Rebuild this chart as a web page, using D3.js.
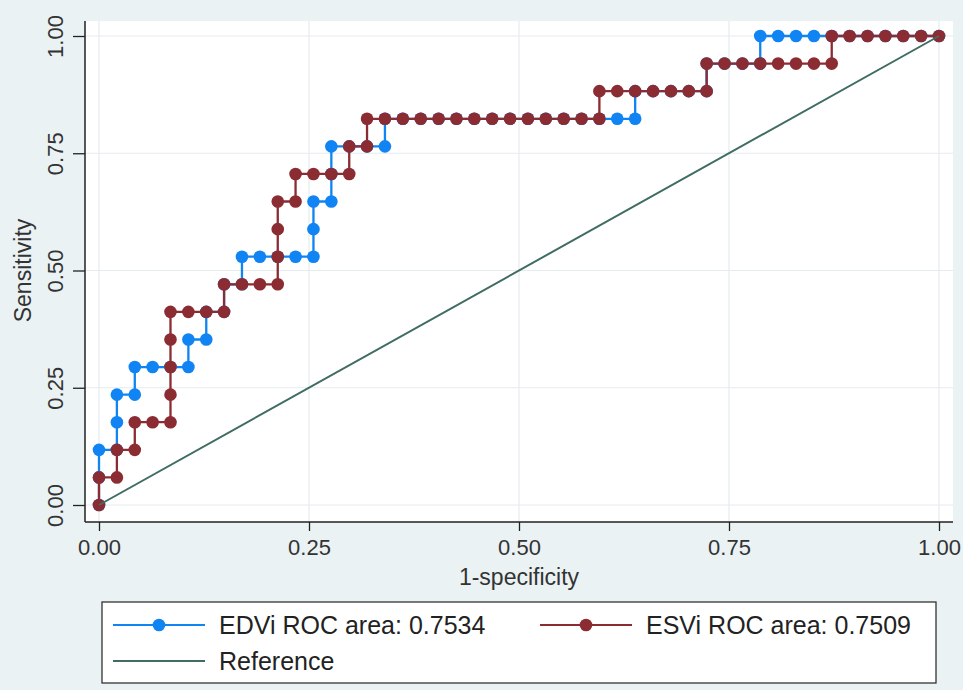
<!DOCTYPE html>
<html>
<head>
<meta charset="utf-8">
<script src="https://cdn.jsdelivr.net/npm/d3@7"></script>
<style>
  html, body { margin: 0; padding: 0; background: #eaf2f3; }
  svg { display: block; font-family: "Liberation Sans", Arial, sans-serif; }
</style>
</head>
<body>
<svg id="chart" width="963" height="690"></svg>
<script>
// Axis ticks
const xTicks = [0, 0.25, 0.5, 0.75, 1];
const yTicks = [0, 0.25, 0.5, 0.75, 1];

// EDVi ROC curve: 1-specificity and sensitivity at each cutoff
const edviFpr = [0.0000,0.0000,0.0000,0.0213,0.0213,0.0213,0.0426,0.0426,0.0638,0.0851,
  0.1064,0.1064,0.1277,0.1277,0.1489,0.1489,0.1702,0.1702,0.1915,0.2128,
  0.2340,0.2553,0.2553,0.2553,0.2766,0.2766,0.2766,0.2979,0.3191,0.3404,
  0.3404,0.3617,0.3830,0.4043,0.4255,0.4468,0.4681,0.4894,0.5106,0.5319,
  0.5532,0.5745,0.5957,0.6170,0.6383,0.6383,0.6596,0.6809,0.7021,0.7234,
  0.7234,0.7447,0.7660,0.7872,0.7872,0.8085,0.8298,0.8511,0.8723,0.8936,
  0.9149,0.9362,0.9574,0.9787,1.0000];
const edviSens = [0.0000,0.0588,0.1176,0.1176,0.1765,0.2353,0.2353,0.2941,0.2941,0.2941,
  0.2941,0.3529,0.3529,0.4118,0.4118,0.4706,0.4706,0.5294,0.5294,0.5294,
  0.5294,0.5294,0.5882,0.6471,0.6471,0.7059,0.7647,0.7647,0.7647,0.7647,
  0.8235,0.8235,0.8235,0.8235,0.8235,0.8235,0.8235,0.8235,0.8235,0.8235,
  0.8235,0.8235,0.8235,0.8235,0.8235,0.8824,0.8824,0.8824,0.8824,0.8824,
  0.9412,0.9412,0.9412,0.9412,1.0000,1.0000,1.0000,1.0000,1.0000,1.0000,
  1.0000,1.0000,1.0000,1.0000,1.0000];

// ESVi ROC curve
const esviFpr = [0.0000,0.0000,0.0213,0.0213,0.0426,0.0426,0.0638,0.0851,0.0851,0.0851,
  0.0851,0.0851,0.1064,0.1277,0.1489,0.1489,0.1702,0.1915,0.2128,0.2128,
  0.2128,0.2128,0.2340,0.2340,0.2553,0.2766,0.2979,0.2979,0.3191,0.3191,
  0.3404,0.3617,0.3830,0.4043,0.4255,0.4468,0.4681,0.4894,0.5106,0.5319,
  0.5532,0.5745,0.5957,0.5957,0.6170,0.6383,0.6596,0.6809,0.7021,0.7234,
  0.7234,0.7447,0.7660,0.7872,0.8085,0.8298,0.8511,0.8723,0.8723,0.8936,
  0.9149,0.9362,0.9574,0.9787,1.0000];
const esviSens = [0.0000,0.0588,0.0588,0.1176,0.1176,0.1765,0.1765,0.1765,0.2353,0.2941,
  0.3529,0.4118,0.4118,0.4118,0.4118,0.4706,0.4706,0.4706,0.4706,0.5294,
  0.5882,0.6471,0.6471,0.7059,0.7059,0.7059,0.7059,0.7647,0.7647,0.8235,
  0.8235,0.8235,0.8235,0.8235,0.8235,0.8235,0.8235,0.8235,0.8235,0.8235,
  0.8235,0.8235,0.8235,0.8824,0.8824,0.8824,0.8824,0.8824,0.8824,0.8824,
  0.9412,0.9412,0.9412,0.9412,0.9412,0.9412,0.9412,0.9412,1.0000,1.0000,
  1.0000,1.0000,1.0000,1.0000,1.0000];

// Diagonal reference line
const refFpr = [0, 1];
const refSens = [0, 1];

const seriesNames = ["EDVi ROC area: 0.7534", "ESVi ROC area: 0.7509", "Reference"];
const xTitle = "1-specificity";
const yTitle = "Sensitivity";

const colors = { edvi: "#0f84f2", esvi: "#8b2c32", ref: "#3f6c63" };

const svg = d3.select("#chart");
const W = 963, H = 690;
const plot = { left: 85, right: 953, top: 21, bottom: 522 };

svg.append("rect").attr("width", W).attr("height", H).attr("fill", "#eaf2f3");
svg.append("rect")
  .attr("x", plot.left).attr("y", plot.top)
  .attr("width", plot.right - plot.left).attr("height", plot.bottom - plot.top)
  .attr("fill", "#ffffff");

const x = d3.scaleLinear().domain([0, 1]).range([99, 939]);
const y = d3.scaleLinear().domain([0, 1]).range([505, 36]);

// Grid lines
const grid = svg.append("g").attr("stroke", "#e4ecee").attr("stroke-width", 1.2);
grid.selectAll("line.h").data(yTicks).join("line")
  .attr("x1", plot.left).attr("x2", plot.right)
  .attr("y1", d => y(d)).attr("y2", d => y(d));
grid.selectAll("line.v").data(xTicks).join("line")
  .attr("y1", plot.top).attr("y2", plot.bottom)
  .attr("x1", d => x(d)).attr("x2", d => x(d));

// Axes
const fmt = d3.format(".2f");
const xAxis = svg.append("g")
  .attr("transform", `translate(0,${plot.bottom})`)
  .call(d3.axisBottom(x).tickValues(xTicks).tickFormat(fmt).tickSize(9));
xAxis.select(".domain").remove();
xAxis.selectAll(".tick line").attr("stroke", "#222").attr("stroke-width", 1.3);
xAxis.selectAll(".tick text")
  .attr("y", 33).attr("dy", 0)
  .attr("font-size", 22).attr("fill", "#333")
  .attr("font-family", "Liberation Sans, Arial, sans-serif");

const yAxis = svg.append("g")
  .attr("transform", `translate(${plot.left},0)`)
  .call(d3.axisLeft(y).tickValues(yTicks).tickFormat(fmt).tickSize(12));
yAxis.select(".domain").remove();
yAxis.selectAll(".tick line").attr("stroke", "#222").attr("stroke-width", 1.3);
yAxis.selectAll(".tick text")
  .attr("transform", "rotate(-90)")
  .attr("x", 0).attr("y", -22).attr("dy", 0)
  .attr("text-anchor", "middle")
  .attr("font-size", 22).attr("fill", "#333")
  .attr("font-family", "Liberation Sans, Arial, sans-serif");

// Axis lines along the plot region
svg.append("line")
  .attr("x1", plot.left).attr("x2", plot.left)
  .attr("y1", plot.top).attr("y2", plot.bottom)
  .attr("stroke", "#222").attr("stroke-width", 1.5);
svg.append("line")
  .attr("x1", plot.left).attr("x2", plot.right)
  .attr("y1", plot.bottom).attr("y2", plot.bottom)
  .attr("stroke", "#222").attr("stroke-width", 1.5);

// Axis titles
svg.append("text")
  .attr("x", (x(0) + x(1)) / 2).attr("y", 585)
  .attr("text-anchor", "middle").attr("font-size", 23).attr("fill", "#333")
  .text(xTitle);
svg.append("text")
  .attr("transform", `translate(31,${y(0.5)}) rotate(-90)`)
  .attr("text-anchor", "middle").attr("font-size", 23).attr("fill", "#333")
  .text(yTitle);

// ROC curves
const line = d3.line().x(d => x(d[0])).y(d => y(d[1]));

function drawCurve(fpr, sens, color) {
  const pts = fpr.map((v, i) => [v, sens[i]]);
  const g = svg.append("g");
  g.append("path").datum(pts)
    .attr("d", line).attr("fill", "none")
    .attr("stroke", color).attr("stroke-width", 2.3);
  g.selectAll("circle").data(pts).join("circle")
    .attr("cx", d => x(d[0])).attr("cy", d => y(d[1]))
    .attr("r", 6.3).attr("fill", color);
}
drawCurve(edviFpr, edviSens, colors.edvi);
drawCurve(esviFpr, esviSens, colors.esvi);

svg.append("path")
  .datum(refFpr.map((v, i) => [v, refSens[i]]))
  .attr("d", line).attr("fill", "none")
  .attr("stroke", colors.ref).attr("stroke-width", 2);

// Legend
const lg = svg.append("g");
lg.append("rect")
  .attr("x", 102).attr("y", 602).attr("width", 834).attr("height", 81)
  .attr("fill", "#ffffff").attr("stroke", "#333").attr("stroke-width", 1.3);

const legendItems = [
  { label: seriesNames[0], color: colors.edvi, marker: true, x0: 113, y0: 625 },
  { label: seriesNames[1], color: colors.esvi, marker: true, x0: 540, y0: 625 },
  { label: seriesNames[2], color: colors.ref, marker: false, x0: 113, y0: 661 }
];
legendItems.forEach(it => {
  lg.append("line")
    .attr("x1", it.x0).attr("x2", it.x0 + 92)
    .attr("y1", it.y0).attr("y2", it.y0)
    .attr("stroke", it.color).attr("stroke-width", 2.2);
  if (it.marker) {
    lg.append("circle").attr("cx", it.x0 + 46).attr("cy", it.y0)
      .attr("r", 6.3).attr("fill", it.color);
  }
  lg.append("text")
    .attr("x", it.x0 + 106).attr("y", it.y0 + 9)
    .attr("font-size", 25).attr("fill", "#222")
    .text(it.label);
});
</script>
</body>
</html>
